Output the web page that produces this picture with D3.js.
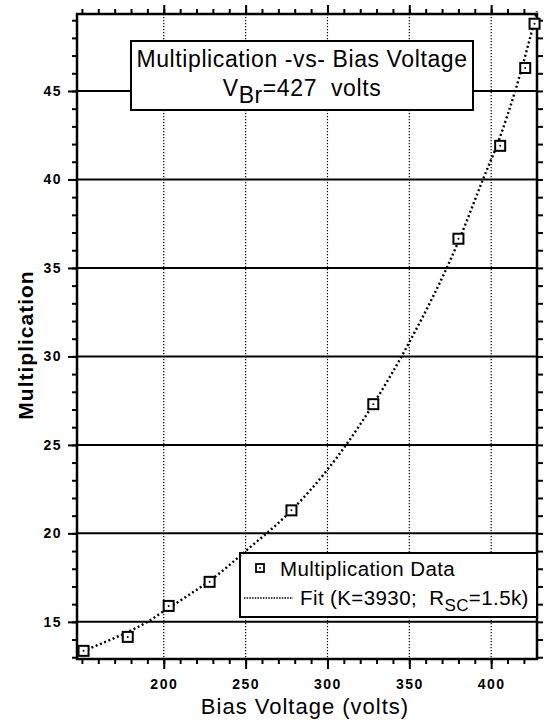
<!DOCTYPE html>
<html>
<head>
<meta charset="utf-8">
<script src="https://cdn.jsdelivr.net/npm/d3@7"></script>
<style>
  body { margin: 0; background: #fff; }
  svg { font-family: "Liberation Sans", Arial, sans-serif; }
</style>
</head>
<body>
<script>
// measured points
var voltage = [151, 178, 203, 228, 278, 328, 380, 405.5, 420.8, 426.5];
var multiplication = [13.36, 14.15, 15.9, 17.26, 21.3, 27.3, 36.65, 41.9, 46.3, 48.8];

// fit curve
var fitVoltage = [148, 160, 175, 190, 200, 215, 230, 250, 278, 300, 328, 350, 380, 395, 405, 415, 428];
var fitMultiplication = [13.25, 13.7, 14.3, 15.0, 15.6, 16.5, 17.45, 19.0, 21.3, 23.6, 27.3, 30.8, 36.5, 40.0, 42.3, 45.1, 49.5];

var xTicks = [200, 250, 300, 350, 400];
var yTicks = [15, 20, 25, 30, 35, 40, 45];

window.onload = function() {
  var w = 546;
  var h = 720;
  var left = 77, right = 537, top = 14, bottom = 659;

  var svg = d3.select("body")
      .append("svg")
      .attr("width", w)
      .attr("height", h);

  var x = d3.scaleLinear().domain([147, 428]).range([left, right]);
  var y = d3.scaleLinear().domain([12.9, 49.35]).range([bottom, top]);

  var xMinor = d3.range(150, 429, 10);
  var yMinor = d3.range(13, 50, 1);

  // vertical dotted grid
  svg.selectAll(".vgrid")
      .data(xTicks)
      .enter()
      .append("line")
      .attr("x1", function(d){ return x(d); })
      .attr("x2", function(d){ return x(d); })
      .attr("y1", top)
      .attr("y2", bottom)
      .attr("stroke", "#000")
      .attr("stroke-width", 1.2)
      .attr("stroke-dasharray", "1.2,1.8");

  // horizontal solid grid
  svg.selectAll(".hgrid")
      .data(yTicks)
      .enter()
      .append("line")
      .attr("x1", left)
      .attr("x2", right)
      .attr("y1", function(d){ return y(d); })
      .attr("y2", function(d){ return y(d); })
      .attr("stroke", "#000")
      .attr("stroke-width", 2);

  function styleAxis(g) {
    g.select(".domain").remove();
    g.selectAll("line").attr("stroke", "#000").attr("stroke-width", 2);
    g.selectAll("text")
      .attr("fill", "#000")
      .style("font-size", "14px")
      .style("font-weight", "bold")
      .style("letter-spacing", "1.5px");
  }

  // bottom axis
  svg.append("g").attr("transform", "translate(0," + bottom + ")")
      .call(d3.axisBottom(x).tickValues(xMinor).tickSize(5).tickFormat(""))
      .call(styleAxis);
  svg.append("g").attr("transform", "translate(0," + bottom + ")")
      .call(d3.axisBottom(x).tickValues(xTicks).tickSize(10).tickPadding(10).tickFormat(d3.format("d")))
      .call(styleAxis);

  // top axis
  svg.append("g").attr("transform", "translate(0," + top + ")")
      .call(d3.axisTop(x).tickValues(xMinor).tickSize(5).tickFormat(""))
      .call(styleAxis);
  svg.append("g").attr("transform", "translate(0," + top + ")")
      .call(d3.axisTop(x).tickValues(xTicks).tickSize(9).tickFormat(""))
      .call(styleAxis);

  // left axis
  svg.append("g").attr("transform", "translate(" + left + ",0)")
      .call(d3.axisLeft(y).tickValues(yMinor).tickSize(5).tickFormat(""))
      .call(styleAxis);
  svg.append("g").attr("transform", "translate(" + left + ",0)")
      .call(d3.axisLeft(y).tickValues(yTicks).tickSize(9).tickPadding(6).tickFormat(d3.format("d")))
      .call(styleAxis);

  // right axis
  svg.append("g").attr("transform", "translate(" + right + ",0)")
      .call(d3.axisRight(y).tickValues(yMinor).tickSize(6).tickFormat(""))
      .call(styleAxis);

  // frame
  svg.append("rect")
      .attr("x", left)
      .attr("y", top)
      .attr("width", right - left)
      .attr("height", bottom - top)
      .attr("fill", "none")
      .attr("stroke", "#000")
      .attr("stroke-width", 2.5);

  // title box
  svg.append("rect")
      .attr("x", 131).attr("y", 41)
      .attr("width", 342).attr("height", 69)
      .attr("fill", "#fff")
      .attr("stroke", "#000")
      .attr("stroke-width", 2);

  svg.append("text")
      .attr("x", 302).attr("y", 67)
      .attr("text-anchor", "middle")
      .style("font-size", "23px")
      .style("letter-spacing", "0.6px")
      .text("Multiplication -vs- Bias Voltage");

  var t2 = svg.append("text")
      .attr("x", 302).attr("y", 96)
      .attr("text-anchor", "middle")
      .style("font-size", "23px")
      .style("letter-spacing", "0.6px")
      .style("white-space", "pre");
  t2.append("tspan").text("V");
  t2.append("tspan").attr("dy", 7).text("Br");
  t2.append("tspan").attr("dy", -7).text("=427  volts");

  // legend box
  svg.append("rect")
      .attr("x", 240).attr("y", 553)
      .attr("width", right - 240).attr("height", 64)
      .attr("fill", "#fff")
      .attr("stroke", "#000")
      .attr("stroke-width", 2);

  // fit curve
  var line = d3.line()
      .x(function(d){ return x(d[0]); })
      .y(function(d){ return y(d[1]); })
      .curve(d3.curveMonotoneX);

  svg.append("path")
      .datum(d3.zip(fitVoltage, fitMultiplication))
      .attr("d", line)
      .attr("fill", "none")
      .attr("stroke", "#000")
      .attr("stroke-width", 2.4)
      .attr("stroke-dasharray", "2,2.6");

  // data squares
  var pts = d3.zip(voltage, multiplication);
  svg.selectAll(".pt")
      .data(pts)
      .enter()
      .append("rect")
      .attr("x", function(d){ return x(d[0]) - 5; })
      .attr("y", function(d){ return y(d[1]) - 5; })
      .attr("width", 10)
      .attr("height", 10)
      .attr("fill", "#fff")
      .attr("stroke", "#000")
      .attr("stroke-width", 2);
  svg.selectAll(".ptdot")
      .data(pts)
      .enter()
      .append("circle")
      .attr("cx", function(d){ return x(d[0]); })
      .attr("cy", function(d){ return y(d[1]); })
      .attr("r", 1)
      .attr("fill", "#000");

  // legend entries
  svg.append("rect")
      .attr("x", 256).attr("y", 564)
      .attr("width", 8).attr("height", 8)
      .attr("fill", "#fff")
      .attr("stroke", "#000")
      .attr("stroke-width", 1.8);
  svg.append("circle").attr("cx", 260).attr("cy", 568).attr("r", 0.9).attr("fill", "#000");
  svg.append("text")
      .attr("x", 280).attr("y", 576)
      .style("font-size", "20.5px")
      .style("letter-spacing", "0.4px")
      .text("Multiplication Data");

  svg.append("line")
      .attr("x1", 244).attr("x2", 293)
      .attr("y1", 598).attr("y2", 598)
      .attr("stroke", "#000")
      .attr("stroke-width", 1.6)
      .attr("stroke-dasharray", "1.5,1.2");
  var lt = svg.append("text")
      .attr("x", 300).attr("y", 605)
      .style("font-size", "20.5px")
      .style("letter-spacing", "0.4px")
      .style("white-space", "pre");
  lt.append("tspan").text("Fit (K=3930;  R");
  lt.append("tspan").attr("dy", 6).style("font-size", "17px").text("SC");
  lt.append("tspan").attr("dy", -6).text("=1.5k)");

  // axis titles
  svg.append("text")
      .attr("x", 305).attr("y", 714)
      .attr("text-anchor", "middle")
      .style("font-size", "22px")
      .style("letter-spacing", "1px")
      .text("Bias Voltage (volts)");

  svg.append("text")
      .attr("transform", "translate(33,345) rotate(-90)")
      .attr("text-anchor", "middle")
      .style("font-size", "21px")
      .style("font-weight", "bold")
      .style("letter-spacing", "1px")
      .text("Multiplication");
};
</script>
</body>
</html>
